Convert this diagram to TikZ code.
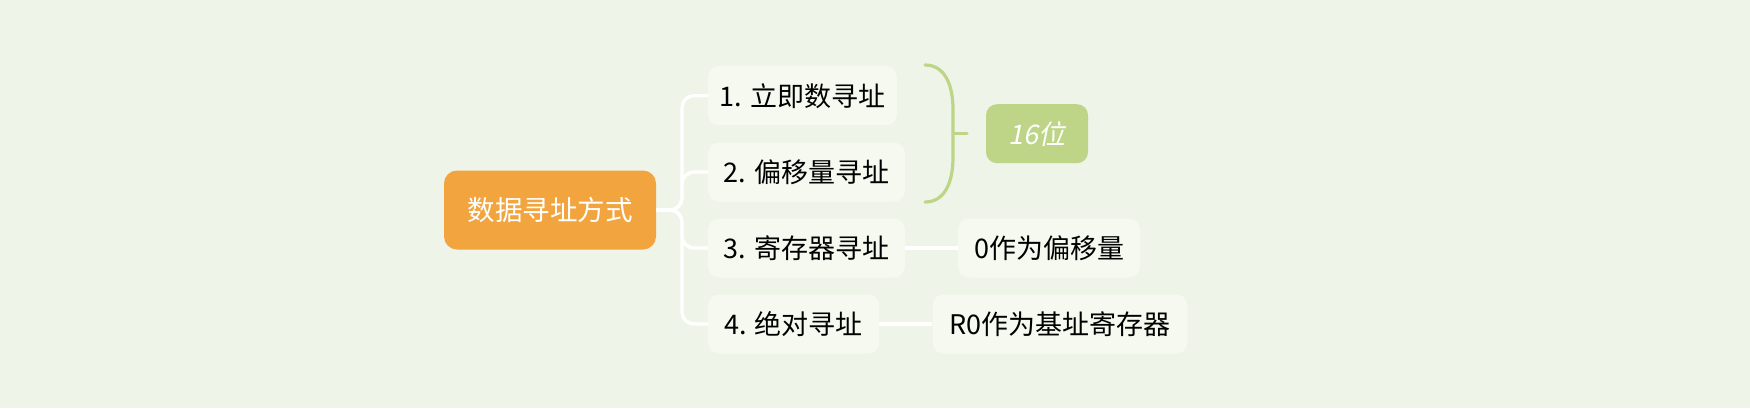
\documentclass[tikz,border=0pt]{standalone}
\usepackage{fontspec}
\setmainfont{Noto Sans CJK SC}
\newfontfamily\cjkslant[FakeSlant=0.2]{Noto Sans CJK SC}
\definecolor{bg}{HTML}{EEF4E8}
\definecolor{leaf}{HTML}{F6F9F0}
\definecolor{rootc}{HTML}{F2A43E}
\definecolor{sumc}{HTML}{BED486}
\tikzset{
  base/.style={rectangle, rounded corners=11pt, inner sep=0pt, font=\fontsize{27}{31}\selectfont},
  rootbox/.style={base, fill=rootc, text=white, minimum width=212pt, minimum height=79pt, rounded corners=13pt, font=\fontsize{27.5}{31}\selectfont},
  leafbox/.style={base, fill=leaf, text=black, minimum height=59pt},
  sumbox/.style={base, fill=sumc, text=white, minimum width=102pt, minimum height=59pt, font=\fontsize{27}{31}\cjkslant},
  conn/.style={draw=white, line width=3.3pt, rounded corners=12pt},
  bracel/.style={draw=sumc, line width=3.2pt, line cap=round}
}
\begin{document}
\begin{tikzpicture}[x=1pt,y=-1pt]
\fill[bg] (0,0) rectangle (1750,408);
\useasboundingbox (0,0) rectangle (1750,408);
\node[rootbox] (root) at (550,210) {数据寻址方式};
\node[leafbox, minimum width=189pt] (n1) at (802.5,95.7) {1. 立即数寻址};
\node[leafbox, minimum width=197pt] (n2) at (806.5,172) {2. 偏移量寻址};
\node[leafbox, minimum width=197pt] (n3) at (806.5,248) {3. 寄存器寻址};
\node[leafbox, minimum width=171pt] (n4) at (793.7,324) {4. 绝对寻址};
\node[sumbox] (s1) at (1037,133.7) {16位};
\node[leafbox, minimum width=182pt] (c3) at (1049,248) {0作为偏移量};
\node[leafbox, minimum width=255pt] (c4) at (1060,324) {R0作为基址寄存器};
\coordinate (tr) at (682,210);
\draw[conn] (root.east) -- (tr) |- (n1.west);
\draw[conn] (root.east) -- (tr) |- (n2.west);
\draw[conn] (root.east) -- (tr) |- (n3.west);
\draw[conn] (root.east) -- (tr) |- (n4.west);
\draw[conn] (n3.east) -- (c3.west);
\draw[conn] (n4.east) -- (c4.west);
\coordinate (bt) at (925,65);
\coordinate (bb) at (925,202);
\coordinate (bm) at (953,133.5);
\coordinate (btick) at (967,133.5);
\draw[bracel] (bt) .. controls (945,65) and (953,85) .. (953,110) -- (953,157) .. controls (953,182) and (945,202) .. (bb);
\draw[bracel] (bm) -- (btick);
\end{tikzpicture}
\end{document}
